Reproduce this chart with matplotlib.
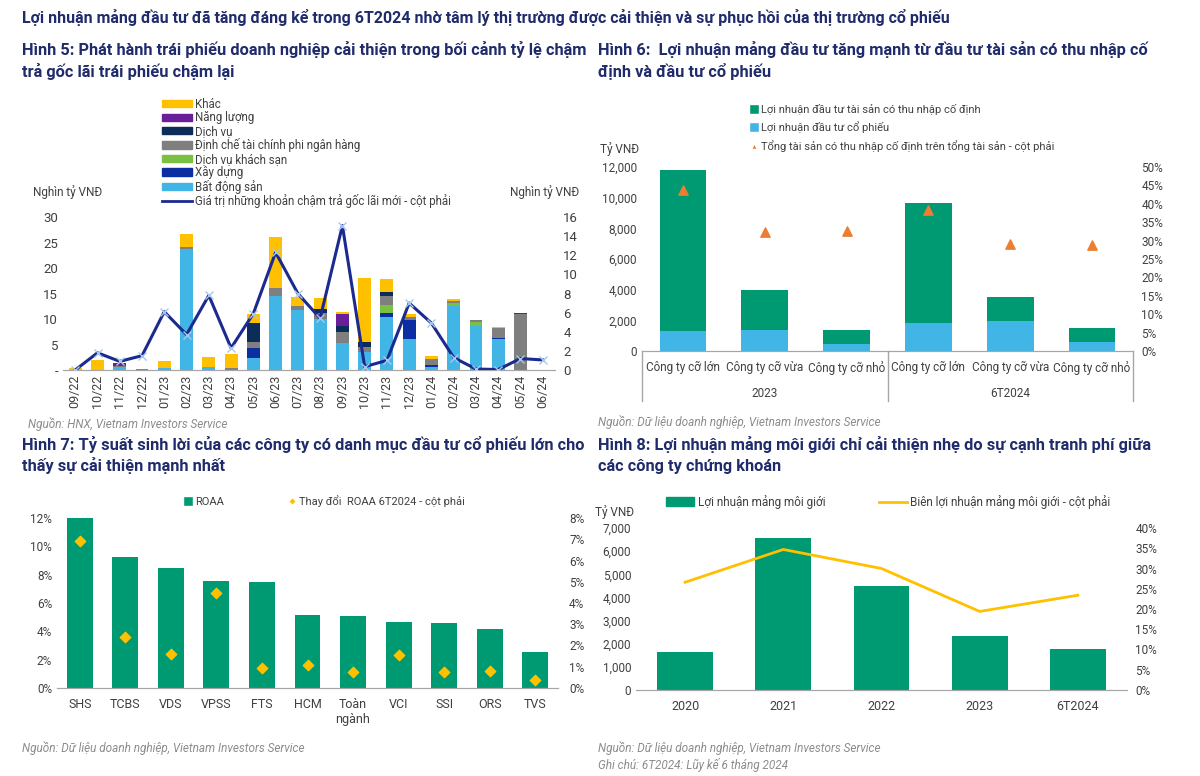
import matplotlib
matplotlib.use("Agg")
import matplotlib.pyplot as plt
import matplotlib.transforms as mtransforms
from matplotlib.lines import Line2D
from matplotlib.patches import Patch
from matplotlib.ticker import FuncFormatter
import numpy as np

plt.rcParams['font.family'] = ['Roboto', 'DejaVu Sans']

W, H = 1200, 776
fig = plt.figure(figsize=(W / 100, H / 100), dpi=100)

NAVY = '#1f2b6b'
GREY_TXT = '#404040'
SRC = '#8c8c8c'
GREEN = '#009a72'
LBLUE = '#41b6e6'
YEL = '#ffc000'


def px_axes(x0, y0, x1, y1):
    return fig.add_axes([x0 / W, 1 - y1 / H, (x1 - x0) / W, (y1 - y0) / H])


def txt(x, y, s, **kw):
    fig.text(x / W, 1 - y / H, s, **kw)


def clean(ax, right=None):
    for a in [ax] + ([right] if right is not None else []):
        for sp in ['top', 'left', 'right']:
            a.spines[sp].set_visible(False)
        a.spines['bottom'].set_color('#a6a6a6')
        a.tick_params(length=0, labelsize=8.5, colors=GREY_TXT)


# ---------------- data ----------------
months = ['09/22', '10/22', '11/22', '12/22', '01/23', '02/23', '03/23', '04/23',
          '05/23', '06/23', '07/23', '08/23', '09/23', '10/23', '11/23', '12/23',
          '01/24', '02/24', '03/24', '04/24', '05/24', '06/24']
bat_dong_san = [0, 0, 0.6, 0, 0.4, 23.8, 0.5, 0, 2.3, 14.5, 11.7, 10.0, 5.3, 3.6,
                10.3, 6.0, 0.6, 12.6, 8.7, 6.0, 0, 0]
xay_dung = [0, 0, 0, 0, 0, 0, 0, 0, 2.0, 0, 0, 0, 0, 0, 0.8, 3.9, 0.4, 0, 0, 0.2, 0, 0]
dv_khach_san = [0, 0, 0, 0, 0, 0, 0, 0, 0, 0, 0, 0, 0, 0, 1.6, 0, 0, 0.6, 0.8, 0, 0, 0]
dinh_che = [0, 0, 0.2, 0.1, 0, 0.3, 0, 0.3, 1.2, 1.5, 0.9, 1.1, 2.2, 1.0, 1.8, 0.4,
            1.1, 0.4, 0.4, 2.0, 10.9, 0]
dich_vu = [0, 0, 0, 0, 0, 0, 0, 0, 3.7, 0, 0, 0.9, 1.1, 0.9, 0.8, 0, 0, 0, 0, 0, 0, 0]
nang_luong = [0, 0, 0.5, 0, 0, 0, 0, 0, 0, 0, 0, 0, 2.3, 0, 0, 0, 0, 0, 0, 0, 0.3, 0]
khac = [0.3, 1.9, 0, 0, 1.4, 2.6, 2.1, 2.8, 1.8, 10.0, 1.8, 2.2, 0.5, 12.6, 2.6, 0.6,
        0.6, 0.3, 0, 0.3, 0, 0]
cham_tra = [0.0, 1.8, 0.9, 1.5, 6.1, 3.7, 7.8, 2.3, 5.9, 12.3, 8.0, 5.4, 15.1, 0.35,
            1.0, 7.0, 4.9, 1.3, 0.1, 0.05, 1.2, 1.05]

cty_labels = ['Công ty cỡ lớn', 'Công ty cỡ vừa', 'Công ty cỡ nhỏ'] * 2
cty_years = ['2023', '6T2024']
ln_co_phieu = [1324, 1367, 434, 1823, 1975, 586]
ln_thu_nhap_cd = [10500, 2604, 911, 7834, 1540, 890]
ty_le_tncd = [43.7, 32.3, 32.5, 38.2, 29.0, 28.9]

ctck = ['SHS', 'TCBS', 'VDS', 'VPSS', 'FTS', 'HCM', 'Toàn\nngành', 'VCI', 'SSI', 'ORS', 'TVS']
roaa = [11.98, 9.27, 8.47, 7.57, 7.45, 5.17, 5.07, 4.67, 4.58, 4.15, 2.57]
roaa_change = [6.93, 2.39, 1.61, 4.46, 0.92, 1.10, 0.77, 1.56, 0.77, 0.81, 0.36]

years = ['2020', '2021', '2022', '2023', '6T2024']
moi_gioi = [1656, 6568, 4494, 2348, 1757]
bien_ln = [26.6, 34.7, 30.0, 19.4, 23.4]

# ---------------- titles ----------------
title_kw = dict(fontsize=11.8, fontweight='bold', color=NAVY, va='center')
txt(22, 18, 'Lợi nhuận mảng đầu tư đã tăng đáng kể trong 6T2024 nhờ tâm lý thị trường được cải thiện và sự phục hồi của thị trường cổ phiếu',
    fontsize=11.5, fontweight='bold', color=NAVY, va='center')
txt(22, 50, 'Hình 5: Phát hành trái phiếu doanh nghiệp cải thiện trong bối cảnh tỷ lệ chậm', **title_kw)
txt(22, 71, 'trả gốc lãi trái phiếu chậm lại', **title_kw)
txt(598, 50, 'Hình 6:  Lợi nhuận mảng đầu tư tăng mạnh từ đầu tư tài sản có thu nhập cố', **title_kw)
txt(598, 71, 'định và đầu tư cổ phiếu', **title_kw)
txt(22, 445, 'Hình 7: Tỷ suất sinh lời của các công ty có danh mục đầu tư cổ phiếu lớn cho', **title_kw)
txt(22, 466, 'thấy sự cải thiện mạnh nhất', **title_kw)
txt(598, 445, 'Hình 8: Lợi nhuận mảng môi giới chỉ cải thiện nhẹ do sự cạnh tranh phí giữa', **title_kw)
txt(598, 466, 'các công ty chứng khoán', **title_kw)

src_kw = dict(fontsize=8.5, style='italic', color=SRC, va='center')
txt(28, 424, 'Nguồn: HNX, Vietnam Investors Service', **src_kw)
txt(598, 422, 'Nguồn: Dữ liệu doanh nghiệp, Vietnam Investors Service', **src_kw)
txt(22, 748, 'Nguồn: Dữ liệu doanh nghiệp, Vietnam Investors Service', **src_kw)
txt(598, 748, 'Nguồn: Dữ liệu doanh nghiệp, Vietnam Investors Service', **src_kw)
txt(598, 765, 'Ghi chú: 6T2024: Lũy kế 6 tháng 2024', **src_kw)

# ---------------- Hình 5 ----------------
ax1 = px_axes(63, 217, 555, 370)
ax1r = ax1.twinx()
x = np.arange(len(months))
series = [(bat_dong_san, '#41b6e6', 'Bất động sản'),
          (xay_dung, '#0b2fa3', 'Xây dựng'),
          (dv_khach_san, '#7ac143', 'Dịch vụ khách sạn'),
          (dinh_che, '#7f7f7f', 'Định chế tài chính phi ngân hàng'),
          (dich_vu, '#0c2d57', 'Dịch vụ'),
          (nang_luong, '#6a1f9a', 'Năng lượng'),
          (khac, '#ffc000', 'Khác')]
bottom = np.zeros(len(months))
handles = []
for vals, col, lab in series:
    ax1.bar(x, vals, 0.58, bottom=bottom, color=col, zorder=2)
    bottom += np.array(vals)
    handles.append(Patch(color=col, label=lab))
ax1r.plot(x, cham_tra, color='#1a2a8f', lw=2.2, marker='x', ms=6,
          mec='#a9c9ec', mew=1, zorder=3)
ax1.set_xlim(-0.55, len(months) - 0.45)
ax1.set_ylim(0, 30)
ax1r.set_ylim(0, 16)
ax1.set_yticks(range(0, 31, 5))
ax1.yaxis.set_major_formatter(FuncFormatter(lambda v, p: '-' if v == 0 else f'{v:.0f}'))
ax1r.set_yticks(range(0, 17, 2))
ax1.set_xticks(x)
ax1.set_xticklabels(months, rotation=90)
clean(ax1, ax1r)
ax1.tick_params(axis='y', labelsize=9.5)
ax1r.tick_params(axis='y', labelsize=9.5, pad=6)
ax1.tick_params(axis='x', labelsize=9)
txt(33, 192, 'Nghìn tỷ VNĐ', fontsize=8.5, color=GREY_TXT, va='center')
txt(510, 192, 'Nghìn tỷ VNĐ', fontsize=8.5, color=GREY_TXT, va='center')
handles = handles[::-1] + [Line2D([0], [0], color='#1a2a8f', lw=2,
                                  label='Giá trị những khoản chậm trả gốc lãi mới - cột phải')]
fig.legend(handles=handles, loc='upper left', bbox_to_anchor=(156 / W, 1 - 92 / H),
           frameon=False, fontsize=8.3, handlelength=2.6, handleheight=0.6,
           labelspacing=0.04, handletextpad=0.3, borderpad=0, labelcolor=GREY_TXT)

# ---------------- Hình 6 ----------------
ax2 = px_axes(642, 167, 1133, 351)
ax2r = ax2.twinx()
x2 = np.arange(len(cty_labels))
ax2.bar(x2, ln_co_phieu, 0.57, color=LBLUE, zorder=2)
ax2.bar(x2, ln_thu_nhap_cd, 0.57, bottom=ln_co_phieu, color=GREEN, zorder=2)
ax2r.scatter(x2, ty_le_tncd, marker='^', s=45, color='#ed7d31', zorder=3)
ax2.set_xlim(-0.5, len(cty_labels) - 0.5)
ax2.set_ylim(0, 12000)
ax2.set_yticks(range(0, 12001, 2000))
ax2.yaxis.set_major_formatter(FuncFormatter(lambda v, p: f'{v:,.0f}'))
ax2r.set_ylim(0, 50)
ax2r.set_yticks(range(0, 51, 5))
ax2r.yaxis.set_major_formatter(FuncFormatter(lambda v, p: f'{v:.0f}%'))
ax2.set_xticks(x2)
ax2.set_xticklabels(cty_labels)
clean(ax2, ax2r)
ax2.tick_params(axis='x', labelsize=8.5, pad=7)
ax2r.tick_params(axis='y', pad=6)
trans = mtransforms.blended_transform_factory(ax2.transData, ax2.transAxes)
for xs in [-0.5, 2.5, 5.5]:
    ax2.plot([xs, xs], [0, -0.27], transform=trans, color='#a6a6a6', lw=1, clip_on=False)
for i, yr in enumerate(cty_years):
    ax2.text(1 + 3 * i, -0.23, yr, transform=trans, ha='center', va='center',
             fontsize=8.5, color=GREY_TXT)
txt(600, 149, 'Tỷ VNĐ', fontsize=8.5, color=GREY_TXT, va='center')
h2 = [Line2D([0], [0], marker='s', color='w', markerfacecolor=GREEN, ms=7,
             label='Lợi nhuận đầu tư tài sản có thu nhập cố định'),
      Line2D([0], [0], marker='s', color='w', markerfacecolor=LBLUE, ms=7,
             label='Lợi nhuận đầu tư cổ phiếu'),
      Line2D([0], [0], marker='^', color='w', markerfacecolor='#ed7d31', ms=5,
             label='Tổng tài sản có thu nhập cố định trên tổng tài sản - cột phải')]
fig.legend(handles=h2, loc='upper left', bbox_to_anchor=(744 / W, 1 - 98 / H),
           frameon=False, fontsize=8, handlelength=0.8,
           labelspacing=0.6, handletextpad=0.2, borderpad=0, labelcolor=GREY_TXT)

# ---------------- Hình 7 ----------------
ax3 = px_axes(57, 518, 558, 688)
ax3r = ax3.twinx()
x3 = np.arange(len(ctck))
ax3.bar(x3, roaa, 0.57, color=GREEN, zorder=2)
ax3r.scatter(x3, roaa_change, marker='D', s=28, color=YEL, zorder=3)
ax3.set_xlim(-0.5, len(ctck) - 0.5)
ax3.set_ylim(0, 12)
ax3.set_yticks(range(0, 13, 2))
ax3.yaxis.set_major_formatter(FuncFormatter(lambda v, p: f'{v:.0f}%'))
ax3r.set_ylim(0, 8)
ax3r.set_yticks(range(0, 9))
ax3r.yaxis.set_major_formatter(FuncFormatter(lambda v, p: f'{v:.0f}%'))
ax3.set_xticks(x3)
ax3.set_xticklabels(ctck)
clean(ax3, ax3r)
ax3.tick_params(axis='x', labelsize=9, pad=7)
ax3r.tick_params(axis='y', pad=8)
h3 = [Line2D([0], [0], marker='s', color='w', markerfacecolor=GREEN, ms=7, label='ROAA'),
      Line2D([0], [0], marker='D', color='w', markerfacecolor=YEL, ms=4.5,
             label='Thay đổi  ROAA 6T2024 - cột phải')]
fig.legend(handles=h3, loc='center left', bbox_to_anchor=(178 / W, 1 - 501 / H), ncol=2,
           frameon=False, fontsize=8, handlelength=0.8,
           columnspacing=5.8, handletextpad=0.2, borderpad=0, labelcolor=GREY_TXT)

# ---------------- Hình 8 ----------------
ax4 = px_axes(636, 528, 1127, 690)
ax4r = ax4.twinx()
x4 = np.arange(len(years))
ax4.bar(x4, moi_gioi, 0.57, color=GREEN, zorder=2)
ax4r.plot(x4, bien_ln, color=YEL, lw=2, zorder=3)
ax4.set_xlim(-0.5, len(years) - 0.5)
ax4.set_ylim(0, 7000)
ax4.set_yticks(range(0, 7001, 1000))
ax4.yaxis.set_major_formatter(FuncFormatter(lambda v, p: f'{v:,.0f}'))
ax4r.set_ylim(0, 40)
ax4r.set_yticks(range(0, 41, 5))
ax4r.yaxis.set_major_formatter(FuncFormatter(lambda v, p: f'{v:.0f}%'))
ax4.set_xticks(x4)
ax4.set_xticklabels(years)
clean(ax4, ax4r)
ax4.tick_params(axis='x', labelsize=9, pad=7)
ax4r.tick_params(axis='y', pad=6)
txt(595, 512, 'Tỷ VNĐ', fontsize=8.5, color=GREY_TXT, va='center')
h4 = [Patch(color=GREEN, label='Lợi nhuận mảng môi giới'),
      Line2D([0], [0], color=YEL, lw=2, label='Biên lợi nhuận mảng môi giới - cột phải')]
fig.legend(handles=h4, loc='center left', bbox_to_anchor=(660 / W, 1 - 502 / H), ncol=2,
           frameon=False, fontsize=8.5, handlelength=2.4, handleheight=0.8,
           columnspacing=4.5, handletextpad=0.3, borderpad=0, labelcolor=GREY_TXT)

fig.savefig('out.png', dpi=100, facecolor='white')
